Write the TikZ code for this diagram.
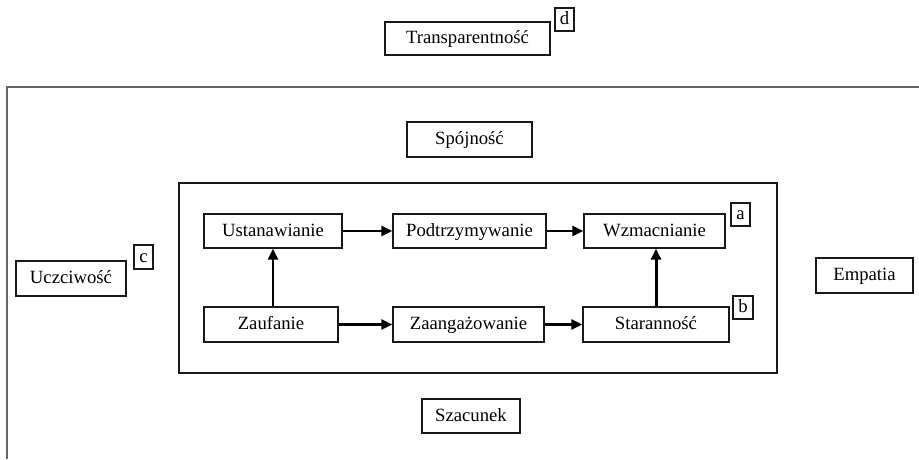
\documentclass[tikz,border=0pt]{standalone}
\usepackage{fontspec}
\setmainfont{Liberation Serif}
\usepackage{tikz}
\usetikzlibrary{arrows.meta}
\tikzset{pole/.style={draw=black!90, line width=1.2pt, inner sep=0pt, text height=14pt, text depth=4pt, font=\fontsize{18.7}{22}\selectfont},
    litera/.style={pole, minimum width=19pt, minimum height=23pt},
    strz/.style={line width=2.2pt, -{Triangle[length=11pt,width=10pt]}}
}

\begin{document}
\begin{tikzpicture}[x=1pt,y=-1pt]
                \useasboundingbox (0,0) rectangle (919,459);
                
                % Frames
                \draw[black!60, line width=2.5pt] (919,87) -- (7,87) -- (7,459);
                \draw[black!90, line width=1.2pt] (179,183) rectangle (777,373);
                
                % Outer labels
                \node[pole, minimum width=165, minimum height=33] (trans) at (467.5,38.5) {Transparentność};
                \node[litera] (d) at (564.5,19.5) {d};
                \node[pole, minimum width=125, minimum height=35] (spoj) at (469.5,139.5) {Spójność};
                \node[pole, minimum width=110, minimum height=35] (ucz) at (71,278.5) {Uczciwość};
                \node[litera, minimum height=24] (c) at (143.5,257) {c};
                \node[pole, minimum width=97, minimum height=35] (emp) at (864.5,275.5) {Empatia};
                \node[pole, minimum width=98, minimum height=34] (szac) at (471,416) {Szacunek};
                
                % Inner boxes
                \node[pole, minimum width=138, minimum height=34] (ust) at (273,231) {Ustanawianie};
                \node[pole, minimum width=153, minimum height=34] (podt) at (469.5,231) {Podtrzymywanie};
                \node[pole, minimum width=141, minimum height=34] (wzm) at (654.5,231) {Wzmacnianie};
                \node[litera] (a) at (740.5,214.5) {a};
                \node[pole, minimum width=134, minimum height=35] (zauf) at (271,324.5) {Zaufanie};
                \node[pole, minimum width=151, minimum height=35] (zaang) at (468.5,324.5) {Zaangażowanie};
                \node[pole, minimum width=146, minimum height=35] (star) at (656,324.5) {Staranność};
                \node[litera, minimum width=20] (b) at (743,307.5) {b};
                
                % Arrows
                \draw[strz] (ust.east) -- (podt.west);
                \draw[strz] (podt.east) -- (wzm.west);
                \draw[strz] (zauf.east) -- (zaang.west);
                \draw[strz] (zaang.east) -- (star.west);
                \draw[strz] (ust.south |- zauf.north) -- (ust.south);
                \draw[strz, line width=3pt] (star.north) -- (wzm.south -| star.north);
            \end{tikzpicture}
\end{document}
